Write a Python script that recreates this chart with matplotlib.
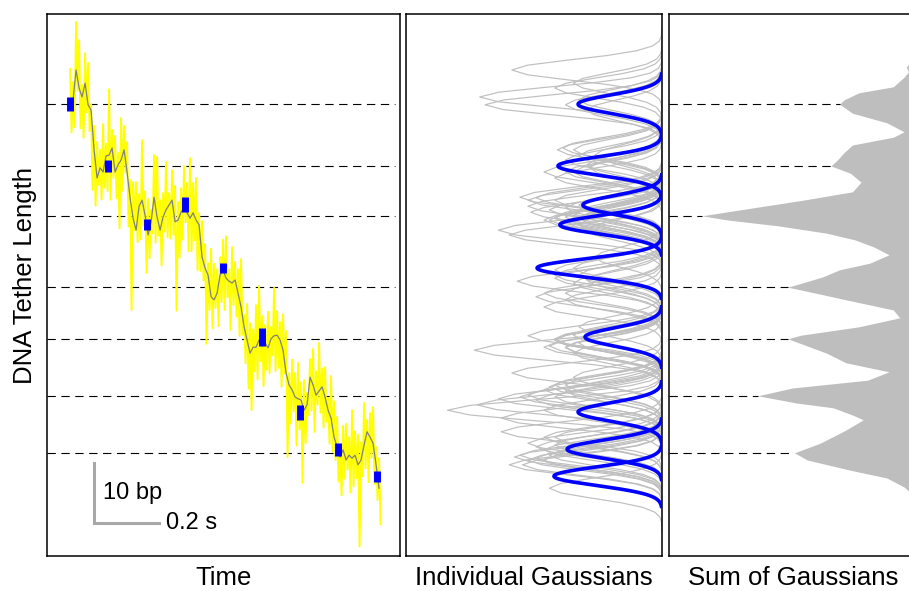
import numpy as np
import matplotlib.pyplot as plt

plt.rcParams['font.family'] = ['Liberation Sans', 'DejaVu Sans']
plt.rcParams['lines.scale_dashes'] = False

# filtered tether length (bp), one sample every dt seconds starting at t0
t0 = 0.071
dt = 0.00923
trace_bp = [75.2, 76.0, 81.0, 78.0, 76.5, 78.8, 75.2, 74.3, 67.7, 63.0,
            64.7, 64.0, 66.7, 66.8, 68.0, 64.0, 65.2, 66.0, 67.7, 64.0,
            59.7, 56.3, 54.3, 58.3, 59.3, 56.8, 53.5, 55.7, 59.8, 56.5,
            54.3, 56.5, 57.7, 58.5, 59.3, 55.7, 56.0, 57.3, 58.0, 57.2,
            56.3, 57.2, 56.0, 55.2, 49.8, 48.0, 46.8, 43.2, 42.7, 43.8,
            46.8, 47.7, 46.3, 45.8, 45.5, 46.0, 43.8, 41.5, 38.2, 36.0,
            33.8, 34.8, 34.8, 36.0, 35.0, 35.5, 34.7, 36.2, 36.7, 36.8,
            36.0, 34.3, 30.5, 28.5, 27.7, 26.5, 26.2, 26.0, 24.3, 25.2,
            29.8, 28.5, 26.8, 27.5, 28.2, 26.5, 24.3, 23.0, 19.8, 18.2,
            16.5, 17.7, 16.0, 16.8, 16.3, 16.8, 15.2, 16.0, 18.5, 20.7,
            19.8, 18.8, 15.2, 11.3]

# raw tether length, sampled twice as often
raw_bp = [81.2, 70.6, 79.0, 71.5, 89.0, 77.5, 86.0, 71.3, 78.5, 69.7,
          83.8, 74.0, 82.2, 70.8, 75.3, 61.0, 71.7, 58.4, 69.0, 61.9,
          67.7, 59.4, 72.0, 61.4, 68.7, 60.8, 77.8, 59.4, 71.0, 63.0,
          70.0, 59.6, 67.2, 54.6, 73.0, 60.9, 71.7, 63.9, 69.0, 54.9,
          62.7, 41.0, 62.3, 54.3, 62.3, 52.3, 60.3, 52.8, 69.3, 55.1,
          60.8, 47.2, 59.5, 49.6, 57.7, 53.8, 66.8, 52.2, 66.5, 53.4,
          59.3, 48.4, 60.5, 54.1, 65.7, 53.1, 60.5, 52.9, 64.3, 53.5,
          61.7, 40.9, 59.0, 49.7, 61.3, 52.7, 65.0, 55.6, 62.2, 50.8,
          66.3, 50.8, 62.2, 52.6, 63.0, 47.6, 57.2, 47.5, 55.8, 45.9,
          52.0, 35.4, 48.8, 41.0, 51.2, 38.0, 48.7, 41.3, 47.8, 38.3,
          49.8, 42.3, 52.7, 41.0, 53.3, 43.1, 47.8, 37.7, 51.5, 41.8,
          49.0, 39.9, 47.8, 36.7, 49.5, 36.9, 40.2, 32.1, 42.0, 27.9,
          38.8, 24.3, 37.8, 30.8, 41.8, 29.4, 45.0, 32.5, 40.0, 28.3,
          38.5, 31.1, 40.7, 30.5, 38.2, 33.5, 44.7, 30.8, 40.8, 31.4,
          39.0, 28.2, 40.3, 30.4, 37.5, 16.5, 30.5, 22.1, 32.7, 24.1,
          30.5, 18.4, 32.2, 21.1, 29.0, 12.2, 29.3, 18.8, 27.2, 23.5,
          32.8, 24.2, 34.5, 20.7, 30.8, 25.2, 35.5, 23.9, 31.2, 21.4,
          31.5, 22.4, 26.3, 18.7, 30.0, 17.4, 25.8, 16.0, 23.2, 12.4,
          18.5, 10.1, 21.7, 12.9, 22.0, 14.4, 19.8, 10.6, 24.3, 11.6,
          20.8, 13.0, 20.2, 1.6, 19.0, 13.3, 25.5, 14.6, 22.7, 12.3,
          23.8, 16.3, 24.8, 12.0, 18.2, 9.3, 16.3, 5.3]

# dwell means: time (s), length (bp), half-height of the marker (bp)
step_t = [0.071, 0.188, 0.308, 0.425, 0.542, 0.662, 0.778, 0.895, 1.015]
step_bp = [75.3, 65.0, 55.2, 58.5, 48.0, 36.5, 24.0, 17.8, 13.3]
step_err = [1.2, 1.0, 0.9, 1.25, 0.85, 1.5, 1.25, 1.1, 0.9]
step_weight = [0.313, 0.388, 0.381, 0.295, 0.466, 0.287, 0.313, 0.354, 0.403]
step_sigma = 1.55

# height of the Gaussian drawn for each filtered sample
gauss_amp = [0.36, 0.31, 0.56, 0.40, 0.68, 0.33, 0.66, 0.28, 0.33, 0.40,
             0.27, 0.36, 0.31, 0.25, 0.37, 0.33, 0.28, 0.36, 0.39, 0.44,
             0.47, 0.31, 0.61, 0.50, 0.50, 0.33, 0.57, 0.36, 0.53, 0.40,
             0.28, 0.36, 0.42, 0.31, 0.40, 0.33, 0.44, 0.49, 0.36, 0.27,
             0.40, 0.33, 0.42, 0.31, 0.25, 0.33, 0.40, 0.47, 0.36, 0.44,
             0.31, 0.40, 0.40, 0.54, 0.33, 0.28, 0.36, 0.44, 0.31, 0.40,
             0.33, 0.44, 0.36, 0.40, 0.42, 0.31, 0.36, 0.40, 0.50, 0.33,
             0.40, 0.70, 0.56, 0.36, 0.44, 0.40, 0.61, 0.47, 0.80, 0.69,
             0.33, 0.40, 0.50, 0.36, 0.42, 0.53, 0.44, 0.60, 0.40, 0.47,
             0.55, 0.44, 0.50, 0.53, 0.47, 0.42, 0.57, 0.44, 0.40, 0.60,
             0.44, 0.50, 0.52, 0.42]
gauss_sigma = 1.7

# summed distribution (relative density) from top to bottom
sum_bp = [84.3, 83.0, 82.3, 81.5, 80.7, 79.8, 78.2, 77.2, 76.0, 75.3,
          73.8, 72.2, 70.7, 69.8, 68.5, 67.2, 66.0, 65.0, 63.8, 62.3,
          60.7, 59.3, 58.2, 56.7, 56.0, 55.0, 53.8, 52.7, 51.5, 50.2,
          48.8, 47.7, 46.5, 44.8, 43.8, 42.7, 41.0, 39.7, 38.2, 36.8,
          36.2, 33.8, 32.2, 30.7, 29.3, 28.0, 26.7, 25.5, 24.7, 23.5,
          22.7, 21.0, 18.8, 17.2, 16.0, 14.3, 13.0, 11.5, 10.2, 8.5]
sum_density = [0.00, 0.00, 0.03, 0.05, 0.04, 0.06, 0.11, 0.27, 0.34, 0.36,
               0.30, 0.14, 0.06, 0.11, 0.30, 0.34, 0.37, 0.40, 0.31, 0.26,
               0.30, 0.53, 0.73, 1.00, 0.88, 0.64, 0.42, 0.29, 0.20, 0.13,
               0.22, 0.36, 0.44, 0.60, 0.47, 0.33, 0.11, 0.08, 0.27, 0.54,
               0.60, 0.42, 0.33, 0.13, 0.23, 0.58, 0.74, 0.56, 0.39, 0.30,
               0.25, 0.33, 0.45, 0.57, 0.51, 0.31, 0.14, 0.06, 0.02, 0.00]

# peaks of the summed distribution
peak_bp = [75.3, 65.0, 56.7, 44.8, 36.2, 26.7, 17.2]

trace_t = t0 + dt * np.arange(len(trace_bp))
raw_t = t0 + dt / 2 * np.arange(len(raw_bp))

ylim = (0, 90.33)
fig = plt.figure(figsize=(9.09, 5.91), dpi=100)
ax1 = fig.add_axes([0.0517, 0.0592, 0.3883, 0.9171])
ax2 = fig.add_axes([0.4466, 0.0592, 0.2816, 0.9171])
ax3 = fig.add_axes([0.7360, 0.0592, 0.2728, 0.9171])

for ax in (ax1, ax2, ax3):
    ax.set_ylim(*ylim)
    ax.set_xticks([])
    ax.set_yticks([])
    for s in ax.spines.values():
        s.set_linewidth(1.1)
        s.set_color('black')

# --- trace panel
ax1.set_xlim(0, 1.086)
for p in peak_bp:
    ax1.plot([0, 1.071], [p, p], color='black', lw=0.8, dashes=(6, 4), zorder=1)
ax1.plot(raw_t, raw_bp, color='yellow', lw=1.4, zorder=2)
ax1.plot(trace_t, trace_bp, color='#808080', lw=0.9, zorder=3)
for t, y, e in zip(step_t, step_bp, step_err):
    ax1.plot([t, t], [y - e, y + e], color='blue', lw=5, solid_capstyle='butt', zorder=4)

# scale bar: 10 bp by 0.2 s
ax1.plot([0.145, 0.145, 0.345], [15.5, 5.5, 5.5], color='#a8a8a8', lw=2.2,
         solid_joinstyle='miter')
ax1.text(0.173, 10.5, '10 bp', fontsize=17, va='center', ha='left')
ax1.text(0.366, 5.5, '0.2 s', fontsize=17, va='center', ha='left')

# --- individual Gaussians, sampled every 0.8 bp about their centres
ax2.set_xlim(0.955, 0)
offs = np.arange(-9, 10) * 0.8
for c, a in zip(trace_bp, gauss_amp):
    ax2.plot(a * np.exp(-0.5 * (offs / gauss_sigma) ** 2), c + offs,
             color='#bfbfbf', lw=0.85, zorder=1)
for c, w in zip(step_bp, step_weight):
    yy = np.linspace(c - 5, c + 5, 200)
    ax2.plot(w * np.exp(-0.5 * ((yy - c) / step_sigma) ** 2), yy,
             color='blue', lw=2.6, zorder=3)

# --- sum of Gaussians
ax3.set_xlim(1.153, 0)
ax3.fill_betweenx(sum_bp, 0, sum_density, color='#bebebe', lw=0)
for p in peak_bp:
    w = np.interp(p, sum_bp[::-1], sum_density[::-1])
    ax3.plot([1.153, w], [p, p], color='black', lw=0.8, dashes=(6, 4))

fig.text(223.5 / 909, 1 - 585 / 591, 'Time', fontsize=18.5, ha='center', va='baseline')
fig.text(534 / 909, 1 - 585 / 591, 'Individual Gaussians', fontsize=18.5,
         ha='center', va='baseline')
fig.text(793 / 909, 1 - 585 / 591, 'Sum of Gaussians', fontsize=18.5,
         ha='center', va='baseline')
fig.text(32 / 909, 1 - 275.5 / 591, 'DNA Tether Length', fontsize=18.5,
         rotation=90, rotation_mode='anchor', ha='center', va='baseline')

fig.savefig('out.png', dpi=100)
